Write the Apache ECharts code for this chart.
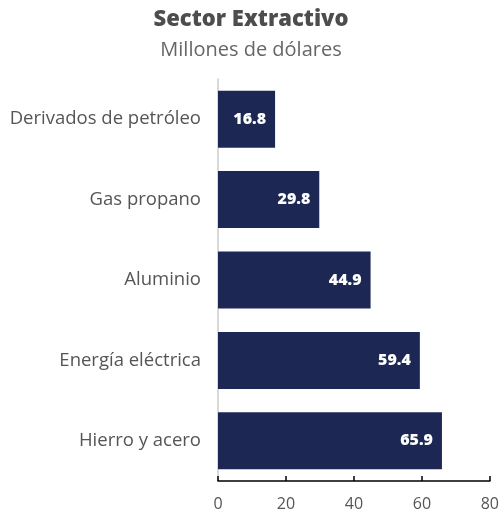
<!DOCTYPE html>
<html><head><meta charset="utf-8">
<script src="https://cdn.jsdelivr.net/npm/echarts@6/dist/echarts.min.js"></script>
<style>html,body{margin:0;padding:0;background:#fff}#c{width:502px;height:512px}</style>
</head><body><div id="c"></div>
<script>
const categories = ["Derivados de petróleo", "Gas propano", "Aluminio", "Energía eléctrica", "Hierro y acero"];
const values = [16.8, 29.8, 44.9, 59.4, 65.9];
const xTicks = [0, 20, 40, 60, 80];

const F = 'Open Sans';
const chart = echarts.init(document.getElementById('c'), null, {renderer: 'canvas'});
chart.setOption({
  animation: false,
  title: [
    {text: "Sector Extractivo", left: 'center', top: 4, textStyle: {fontFamily: F, fontWeight: 800, fontSize: 22, color: '#4d4d4d'}},
    {text: "Millones de dólares", left: 'center', top: 35, textStyle: {fontFamily: F, fontWeight: 'normal', fontSize: 20, color: '#666'}}
  ],
  grid: {left: 218, right: 12, top: 79, bottom: 26, containLabel: false},
  xAxis: {
    type: 'value', min: xTicks[0], max: xTicks[xTicks.length - 1], interval: 20,
    axisLine: {show: true, lineStyle: {color: '#000', width: 1.5}},
    axisTick: {show: true, inside: true, length: 5, lineStyle: {color: '#000', width: 1.5}},
    splitLine: {show: false},
    axisLabel: {fontFamily: F, fontSize: 16, color: '#555', margin: 15}
  },
  yAxis: {
    type: 'category', data: categories, inverse: true,
    axisLine: {show: true, lineStyle: {color: '#ccc', width: 1.5}},
    axisTick: {show: false},
    axisLabel: {fontFamily: F, fontSize: 18.5, color: '#555', margin: 17}
  },
  series: [{
    type: 'bar', data: values, barWidth: 57,
    itemStyle: {color: '#1c2853'},
    label: {show: true, position: 'insideRight', distance: 9, color: '#fff', fontFamily: F, fontWeight: 800, fontSize: 16,
      formatter: p => p.value.toFixed(1)}
  }]
});
</script></body></html>
